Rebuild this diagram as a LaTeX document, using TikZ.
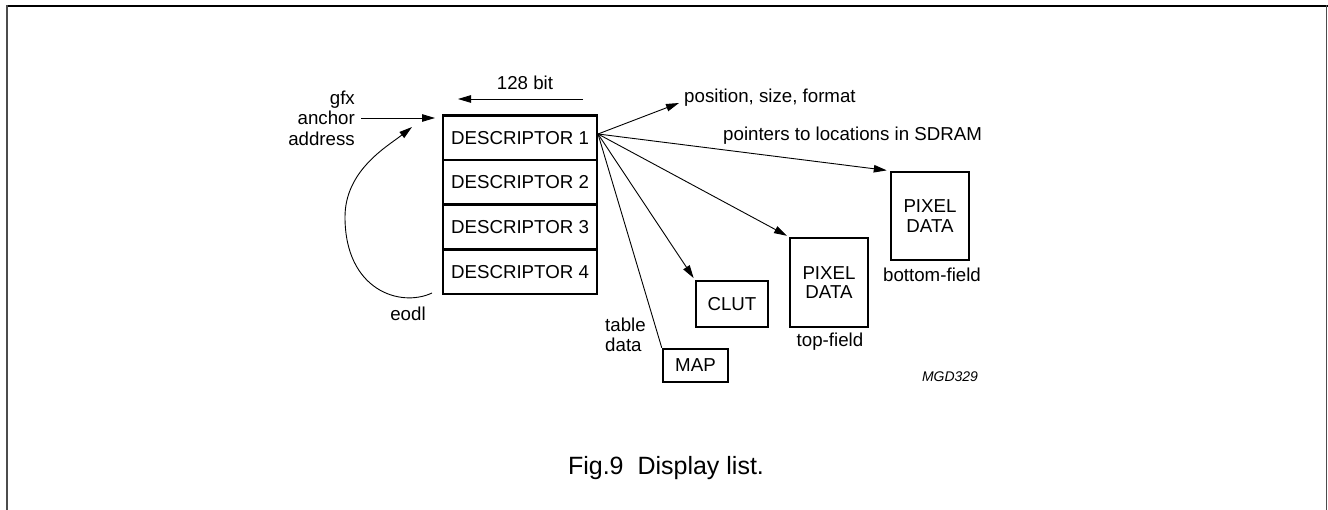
\documentclass[tikz,border=0pt]{standalone}
\usepackage{fontspec}
\setmainfont{Liberation Sans}
\usetikzlibrary{arrows.meta}
\begin{document}
\begin{tikzpicture}[x=1pt,y=-1pt,
  txt/.style={inner sep=0pt, font=\fontsize{18.7}{20.5}\selectfont},
  boxn/.style={draw, line width=2.5pt, inner sep=0pt, align=center, font=\fontsize{18.7}{19.5}\selectfont},
  desc/.style={boxn, minimum width=154pt, minimum height=44.5pt},
  thinl/.style={line width=0.9pt},
  arr/.style={thinl, -{Triangle[length=13pt,width=7.5pt]}},
  frame/.style={line width=1.7pt, black!70}
]
\useasboundingbox (0,0) rectangle (1328,510);
% frame
\draw[line width=1.3pt] (6,6) -- (1327.5,6);
\draw[frame] (6.8,5.4) -- (6.8,510);
\draw[frame] (1326.6,5.4) -- (1326.6,510);

% descriptor stack
\node[desc] (d1) at (520,138) {DESCRIPTOR 1};
\node[desc] (d2) at (520,182.5) {DESCRIPTOR 2};
\node[desc] (d3) at (520,227.5) {DESCRIPTOR 3};
\node[desc] (d4) at (520,272) {DESCRIPTOR 4};

% 128 bit
\node[txt] (bits) at (525,83) {128 bit};
\coordinate (bitsR) at (583,99);
\coordinate (bitsL) at (458,99);
\draw[arr] (bitsR) -- (bitsL);

% anchor address
\node[txt, align=right, anchor=east] (gfx) at (355,118) {gfx\\anchor\\address};
\coordinate (anchTip) at (435,118);
\draw[arr] (gfx.east) ++(6,0) coordinate (anchS) (anchS) -- (anchTip);

% eodl loop
\coordinate (loopS) at (432,293);
\coordinate (loopL) at (345,217);
\coordinate (loopE) at (412,127);
\draw[arr] (loopS) .. controls (400,308) and (345,290) .. (loopL)
  .. controls (345,170) and (388,146) .. (loopE);
\node[txt] (eodl) at (408,314) {eodl};

% targets
\node[boxn, minimum width=78pt, minimum height=88pt] (pixB) at (930,216) {PIXEL\\DATA};
\node[txt] (bf) at (932,275) {bottom-field};
\node[boxn, minimum width=78pt, minimum height=89pt] (pixT) at (829,282.5) {PIXEL\\DATA};
\node[txt] (tf) at (830,342) {top-field};
\node[boxn, minimum width=72pt, minimum height=46pt] (clut) at (732,304) {CLUT};
\node[boxn, minimum width=65pt, minimum height=33pt] (map) at (695.5,365.5) {MAP};
\node[txt, align=left, anchor=west] (tbl) at (605,335) {table\\data};

% labels
\node[txt, anchor=west] (pos) at (684,98) {position, size, format};
\node[txt, anchor=west] (ptr) at (723,136) {pointers to locations in SDRAM};

% fan
\coordinate (o) at (598,134);
\coordinate (posTip) at (679,103);
\draw[arr] (o) -- (posTip);
\draw[arr, shorten >=3pt] (o) -- (pixB.north west);
\draw[arr, shorten >=2pt] (o) -- (pixT.north west);
\draw[arr, shorten >=2pt] (o) -- (clut.north west);
\draw[thinl] (o) -- (map.north west);

% id and caption
\node[inner sep=0pt, font=\fontsize{14}{16}\selectfont\itshape] (id) at (950,377) {MGD329};
\node[inner sep=0pt, font=\fontsize{25}{28}\selectfont] (cap) at (666,468) {Fig.9\ \ Display list.};
\end{tikzpicture}
\end{document}
